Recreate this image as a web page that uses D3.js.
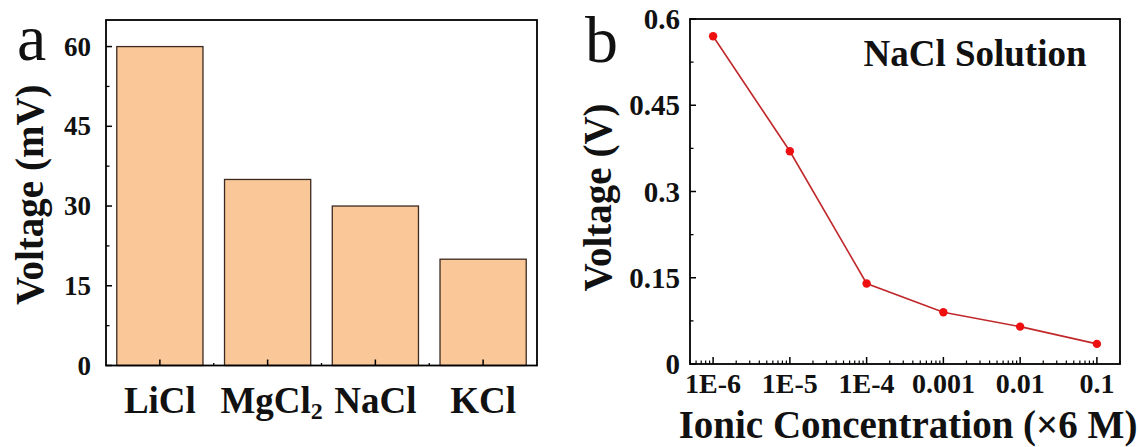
<!DOCTYPE html>
<html>
<head>
<meta charset="utf-8">
<script src="https://cdn.jsdelivr.net/npm/d3@7"></script>
<style>
  body { margin: 0; background: #fff; }
  svg { display: block; }
  text { font-family: "Liberation Serif", "Times New Roman", serif; fill: #111; }
</style>
</head>
<body>
<svg id="chart" width="1138" height="447"></svg>
<script>
// ---- data ----
var salts = ['LiCl', 'MgCl2', 'NaCl', 'KCl'];
var saltVoltage = [60, 35, 30, 20];          // mV
var yTicksA = [0, 15, 30, 45, 60];

var concentration = [1e-6, 1e-5, 1e-4, 1e-3, 1e-2, 1e-1];
var nacl_voltage = [0.57, 0.37, 0.14, 0.09, 0.065, 0.035]; // V
var xTickLabelsB = ['1E-6', '1E-5', '1E-4', '0.001', '0.01', '0.1'];
var yTicksB = [0, 0.15, 0.3, 0.45, 0.6];

var svg = d3.select('#chart');

// =========
// Panel a
// =========
var a = {left: 106, right: 537, top: 20, bottom: 365.5};
var xa = d3.scaleBand().domain(salts).range([a.left, a.right])
    .paddingInner(0.2).paddingOuter(0.1);
var ya = d3.scaleLinear().domain([0, 65]).range([a.bottom, a.top]);

var ga = svg.append('g');

ga.selectAll('.bar')
    .data(salts)
    .enter()
    .append('rect')
    .attr('class', 'bar')
    .attr('x', function(d){ return xa(d); })
    .attr('y', function(d, i){ return ya(saltVoltage[i]); })
    .attr('width', xa.bandwidth())
    .attr('height', function(d, i){ return ya(0) - ya(saltVoltage[i]); })
    .attr('fill', '#fac898')
    .attr('stroke', '#3a2a22')
    .attr('stroke-width', 1.3);

// frame
ga.append('rect')
    .attr('x', a.left).attr('y', a.top)
    .attr('width', a.right - a.left).attr('height', a.bottom - a.top)
    .attr('fill', 'none').attr('stroke', '#000').attr('stroke-width', 1.8);

// y ticks (inward), minor halfway
var yMinorA = d3.range(7.5, 65, 15);
ga.selectAll('.ytick').data(yTicksA).enter().append('line')
    .attr('x1', a.left).attr('x2', a.left + 6)
    .attr('y1', function(d){ return ya(d); }).attr('y2', function(d){ return ya(d); })
    .attr('stroke', '#000').attr('stroke-width', 1.5);
ga.selectAll('.yminor').data(yMinorA).enter().append('line')
    .attr('x1', a.left).attr('x2', a.left + 3.5)
    .attr('y1', function(d){ return ya(d); }).attr('y2', function(d){ return ya(d); })
    .attr('stroke', '#000').attr('stroke-width', 1.3);
ga.selectAll('.ylab').data(yTicksA).enter().append('text')
    .attr('x', a.left - 15).attr('y', function(d){ return ya(d) + 9; })
    .attr('text-anchor', 'end')
    .attr('font-size', 27).attr('font-weight', 'bold')
    .text(function(d){ return d; });

// x ticks at band centres and small ones between bands
ga.selectAll('.xtick').data(salts).enter().append('line')
    .attr('x1', function(d){ return xa(d) + xa.bandwidth() / 2; })
    .attr('x2', function(d){ return xa(d) + xa.bandwidth() / 2; })
    .attr('y1', a.bottom).attr('y2', a.bottom - 6)
    .attr('stroke', '#000').attr('stroke-width', 1.5);
ga.selectAll('.xminor').data(salts.slice(1)).enter().append('line')
    .attr('x1', function(d){ return xa(d) - xa.step() * 0.1; })
    .attr('x2', function(d){ return xa(d) - xa.step() * 0.1; })
    .attr('y1', a.bottom).attr('y2', a.bottom - 2.5)
    .attr('stroke', '#000').attr('stroke-width', 1.3);

var xlab = ga.selectAll('.xlab').data(salts).enter().append('text')
    .attr('x', function(d){ return xa(d) + xa.bandwidth() / 2; })
    .attr('y', 413)
    .attr('text-anchor', 'middle')
    .attr('font-size', 37).attr('font-weight', 'bold');
xlab.each(function(d){
    var t = d3.select(this);
    var m = d.match(/^(.*?)(\d+)$/);
    if (m) {
        t.attr('dx', 4);
        t.append('tspan').text(m[1]);
        t.append('tspan').attr('font-size', 24).attr('dy', 6).text(m[2]);
    } else {
        t.text(d);
    }
});

ga.append('text')
    .attr('transform', 'translate(43,' + ((a.top + a.bottom) / 2 + 2) + ') rotate(-90)')
    .attr('text-anchor', 'middle')
    .attr('font-size', 39).attr('font-weight', 'bold')
    .text('Voltage (mV)');

ga.append('text')
    .attr('x', 17).attr('y', 60)
    .attr('font-size', 66)
    .text('a');

// =========
// Panel b
// =========
var b = {left: 690, right: 1120, top: 19, bottom: 364};
var xb = d3.scaleLog().domain([5e-7, 0.2]).range([b.left, b.right]);
var yb = d3.scaleLinear().domain([0, 0.6]).range([b.bottom, b.top]);

var gb = svg.append('g');

gb.append('rect')
    .attr('x', b.left).attr('y', b.top)
    .attr('width', b.right - b.left).attr('height', b.bottom - b.top)
    .attr('fill', 'none').attr('stroke', '#000').attr('stroke-width', 1.8);

// log ticks
var allTicks = xb.ticks();
var major = allTicks.filter(function(d){
    var e = Math.log10(d); return Math.abs(e - Math.round(e)) < 1e-9;
});
var minor = allTicks.filter(function(d){ return major.indexOf(d) < 0; });
gb.selectAll('.xmajor').data(major).enter().append('line')
    .attr('x1', function(d){ return xb(d); }).attr('x2', function(d){ return xb(d); })
    .attr('y1', b.bottom).attr('y2', b.bottom - 7)
    .attr('stroke', '#000').attr('stroke-width', 1.5);
gb.selectAll('.xminor').data(minor).enter().append('line')
    .attr('x1', function(d){ return xb(d); }).attr('x2', function(d){ return xb(d); })
    .attr('y1', b.bottom).attr('y2', b.bottom - 3.5)
    .attr('stroke', '#000').attr('stroke-width', 1.2);
gb.selectAll('.xlab').data(concentration).enter().append('text')
    .attr('x', function(d){ return xb(d); }).attr('y', 393)
    .attr('text-anchor', 'middle')
    .attr('font-size', 28).attr('font-weight', 'bold')
    .text(function(d, i){ return xTickLabelsB[i]; });

var yMinorB = d3.range(0.075, 0.6, 0.15);
gb.selectAll('.ytick').data(yTicksB).enter().append('line')
    .attr('x1', b.left).attr('x2', b.left + 6)
    .attr('y1', function(d){ return yb(d); }).attr('y2', function(d){ return yb(d); })
    .attr('stroke', '#000').attr('stroke-width', 1.5);
gb.selectAll('.yminor').data(yMinorB).enter().append('line')
    .attr('x1', b.left).attr('x2', b.left + 3.5)
    .attr('y1', function(d){ return yb(d); }).attr('y2', function(d){ return yb(d); })
    .attr('stroke', '#000').attr('stroke-width', 1.3);
gb.selectAll('.ylab').data(yTicksB).enter().append('text')
    .attr('x', b.left - 10).attr('y', function(d){ return yb(d) + 10; })
    .attr('text-anchor', 'end')
    .attr('font-size', 29).attr('font-weight', 'bold')
    .text(function(d){ return d; });

var line = d3.line()
    .x(function(d){ return xb(d[0]); })
    .y(function(d){ return yb(d[1]); });
var pts = concentration.map(function(c, i){ return [c, nacl_voltage[i]]; });

gb.append('path')
    .datum(pts)
    .attr('d', line)
    .attr('fill', 'none')
    .attr('stroke', '#c0282b')
    .attr('stroke-width', 1.6);

gb.selectAll('.pt').data(pts).enter().append('circle')
    .attr('cx', function(d){ return xb(d[0]); })
    .attr('cy', function(d){ return yb(d[1]); })
    .attr('r', 4.2)
    .attr('fill', '#ee1010');

gb.append('text')
    .attr('x', 975).attr('y', 66)
    .attr('text-anchor', 'middle')
    .attr('font-size', 37).attr('font-weight', 'bold')
    .text('NaCl Solution');

gb.append('text')
    .attr('transform', 'translate(611,' + ((b.top + b.bottom) / 2 + 6) + ') rotate(-90)')
    .attr('text-anchor', 'middle')
    .attr('font-size', 39).attr('font-weight', 'bold')
    .text('Voltage (V)');

gb.append('text')
    .attr('x', (b.left + b.right) / 2 + 3).attr('y', 438)
    .attr('text-anchor', 'middle')
    .attr('font-size', 39).attr('font-weight', 'bold')
    .text('Ionic Concentration (\u00d76 M)');

gb.append('text')
    .attr('x', 585).attr('y', 62)
    .attr('font-size', 66)
    .text('b');
</script>
</body>
</html>
